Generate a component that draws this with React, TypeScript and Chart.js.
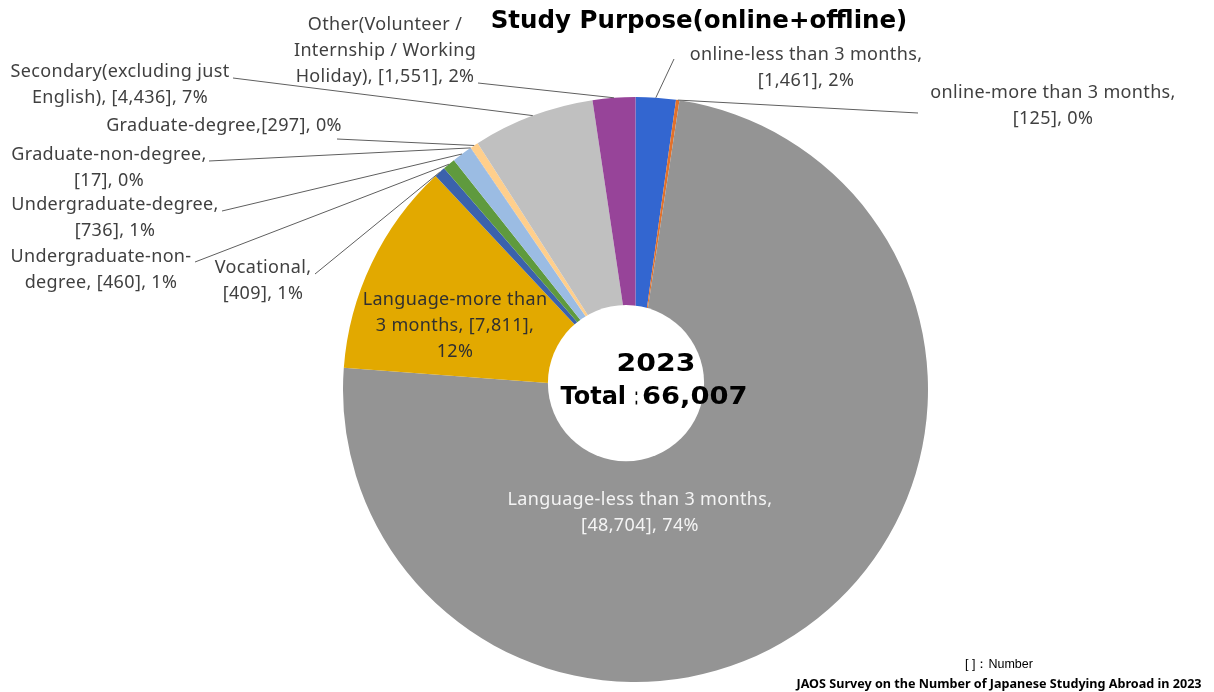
import React, { useEffect, useRef } from "react";
import { Chart, registerables } from "chart.js";

Chart.register(...registerables);

// ---------- data ----------
const categories = [
  "online-less than 3 months",
  "online-more than 3 months",
  "Language-less than 3 months",
  "Language-more than 3 months",
  "Vocational",
  "Undergraduate-non-degree",
  "Undergraduate-degree",
  "Graduate-non-degree",
  "Graduate-degree",
  "Secondary(excluding just English)",
  "Other(Volunteer / Internship / Working Holiday)",
];
const values = [1461, 125, 48704, 7811, 409, 460, 736, 17, 297, 4436, 1551];
const colors = [
  "#3366D0",
  "#E2712B",
  "#949494",
  "#E2A900",
  "#3B62AC",
  "#5F9A3E",
  "#9BBCE3",
  "#7F9FCF",
  "#FFCF8C",
  "#C0C0C0",
  "#974499",
];
const chartTitle = "Study Purpose(online+offline)";
const centerYear = "2023";
const centerTotalWord = "Total";
const centerColon = "：";
const footNote = "[ ]：Number";
const sourceNote = "JAOS Survey on the Number of Japanese Studying Abroad in 2023";

// ---------- layout of labels (positions only) ----------
type LabelLayout = {
  x: number;
  y: number;
  split: number[] | null;
  sep: string;
  color: string;
  from: [number, number] | null;
};
const labelLayout: LabelLayout[] = [
  { x: 806, y: 55, split: [5, 2], sep: ", ", color: "#404040", from: [674, 59] },
  { x: 1053, y: 93, split: [5, 2], sep: ", ", color: "#404040", from: [918, 113] },
  { x: 640, y: 500, split: [5, 2], sep: ", ", color: "#F4F4F4", from: null },
  { x: 455, y: 300, split: [3, 3, 1], sep: ", ", color: "#303030", from: null },
  { x: 263, y: 268, split: [1, 2], sep: ", ", color: "#404040", from: [315, 274] },
  { x: 101, y: 257, split: [2, 3], sep: ", ", color: "#404040", from: [195, 262] },
  { x: 115, y: 205, split: [2, 2], sep: ", ", color: "#404040", from: [222, 211] },
  { x: 109, y: 155, split: [3, 2], sep: ", ", color: "#404040", from: [209, 161] },
  { x: 224, y: 126, split: null, sep: ",", color: "#404040", from: [337, 139] },
  { x: 120, y: 72, split: [2, 3], sep: ", ", color: "#404040", from: [233, 78] },
  { x: 385, y: 25, split: [2, 3, 3], sep: ", ", color: "#404040", from: [478, 83] },
];

const total = values.reduce((a, b) => a + b, 0);
const fmt = (n: number) => n.toLocaleString("en-US");

function labelLines(i: number): string[] {
  const L = labelLayout[i];
  const pct = Math.round((values[i] / total) * 100);
  const full = `${categories[i]}${L.sep}[${fmt(values[i])}], ${pct}%`;
  const tokens: string[] = [];
  full.split(" ").forEach((w) => {
    w.split(/(?<=-)/).forEach((p) => tokens.push(p));
  });
  const join = (arr: string[]) =>
    arr.reduce((acc, t, k) => (k === 0 ? t : acc.endsWith("-") ? acc + t : acc + " " + t), "");
  if (!L.split) return [join(tokens)];
  const out: string[] = [];
  let idx = 0;
  L.split.forEach((c) => {
    out.push(join(tokens.slice(idx, idx + c)));
    idx += c;
  });
  return out;
}

const LABEL_FONT = '18px "Noto Sans", sans-serif';
const LINE_H = 26;

function scaledText(
  ctx: CanvasRenderingContext2D,
  text: string,
  x: number,
  y: number,
  sx: number,
  align: CanvasTextAlign
) {
  ctx.save();
  ctx.translate(x, y);
  ctx.scale(sx, 1);
  ctx.textAlign = align;
  ctx.fillText(text, 0, 0);
  ctx.restore();
}

const overlayPlugin = {
  id: "overlay",
  afterDatasetsDraw(chart: any) {
    const ctx: CanvasRenderingContext2D = chart.ctx;
    const meta = chart.getDatasetMeta(0);
    const a0 = meta.data[0];
    const cx = a0.x;
    const cy = a0.y;
    const R = a0.outerRadius;

    ctx.save();
    // leader lines
    ctx.strokeStyle = "#5f5f5f";
    ctx.lineWidth = 1;
    labelLayout.forEach((L, i) => {
      if (!L.from) return;
      const a = meta.data[i];
      const mid = (a.startAngle + a.endAngle) / 2;
      const px = cx + Math.cos(mid) * R;
      const py = cy + Math.sin(mid) * R;
      ctx.beginPath();
      ctx.moveTo(L.from[0], L.from[1]);
      ctx.lineTo(px, py);
      ctx.stroke();
    });

    // hole
    ctx.fillStyle = "#ffffff";
    ctx.beginPath();
    ctx.arc(cx - 0.0325 * R, cy - 0.022 * R, 0.267 * R, 0, Math.PI * 2);
    ctx.fill();

    // slice labels
    ctx.font = LABEL_FONT;
    (ctx as any).letterSpacing = "0.35px";
    ctx.textAlign = "center";
    ctx.textBaseline = "middle";
    labelLayout.forEach((L, i) => {
      ctx.fillStyle = L.color;
      labelLines(i).forEach((line, k) => {
        ctx.fillText(line, L.x, L.y + k * LINE_H);
      });
    });
    (ctx as any).letterSpacing = "0px";

    // center text
    ctx.fillStyle = "#000000";
    ctx.font = 'bold 24px "DejaVu Sans", sans-serif';
    scaledText(ctx, centerYear, cx + 20.5, cy - 24.5, 1.18, "center");
    const ty = cy + 8.5;
    scaledText(ctx, centerTotalWord, cx - 75, ty, 1.0, "left");
    scaledText(ctx, centerColon, cx + 0.5, ty, 0.45, "center");
    scaledText(ctx, fmt(total), cx + 6.5, ty, 1.14, "left");

    // title
    ctx.textAlign = "center";
    ctx.font = 'bold 24.5px "DejaVu Sans", sans-serif';
    ctx.fillText(chartTitle, 699, 22);

    // footnotes
    ctx.font = '12.5px "Liberation Sans", Arial, sans-serif';
    ctx.fillText(footNote, 999, 665);
    ctx.font = 'bold 12.6px "Noto Sans", sans-serif';
    ctx.fillText(sourceNote, 999, 684);
    ctx.restore();
  },
};

export default function App() {
  const canvasRef = useRef<HTMLCanvasElement | null>(null);

  useEffect(() => {
    if (!canvasRef.current) return;
    const chart = new Chart(canvasRef.current, {
      type: "pie",
      data: {
        labels: categories,
        datasets: [
          {
            data: values,
            backgroundColor: colors,
            borderWidth: 0,
          },
        ],
      },
      options: {
        responsive: false,
        animation: false,
        layout: { padding: { left: 343, right: 286, top: 97, bottom: 10 } },
        plugins: {
          legend: { display: false },
          tooltip: { enabled: false },
          title: { display: false },
        },
      },
      plugins: [overlayPlugin],
    });
    return () => chart.destroy();
  }, []);

  return (
    <div
      style={{
        position: "fixed",
        left: 0,
        top: 0,
        width: 1214,
        height: 692,
        background: "#ffffff",
        overflow: "hidden",
      }}
    >
      <canvas ref={canvasRef} width={1214} height={692} style={{ display: "block" }} />
    </div>
  );
}
